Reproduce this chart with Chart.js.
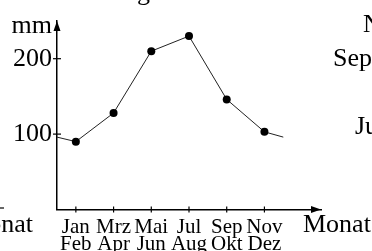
<!DOCTYPE html>
<html>
<head>
<meta charset="utf-8">
<script src="https://cdn.jsdelivr.net/npm/chart.js@4"></script>
<style>
  html, body { margin: 0; padding: 0; background: #fff; }
  #wrap { width: 372px; height: 251px; }
</style>
</head>
<body>
<div id="wrap"><canvas id="chartNieder"></canvas></div>
<script>
/* Daten: Niederschlag je Monat (Dez-Wert am Rand wiederholt) */
const monate = ["Jan", "Feb", "Mrz", "Apr", "Mai", "Jun", "Jul", "Aug", "Sep", "Okt", "Nov", "Dez"];
const xMonat = [0, 1, 3, 5, 7, 9, 11, 12];
const mmWerte = [96, 90, 128, 210, 230, 146, 103, 96];
const xTicks = [1, 3, 5, 7, 9, 11];
const yTicks = [100, 200];

const SERIF = '"Liberation Serif", "Times New Roman", serif';

// Achsenpfeile, Kreuz-Ticks und Beschriftungen
const deko = {
    id: "deko",
    afterDraw(chart) {
        const c = chart.ctx;
        const a = chart.chartArea;
        const sx = chart.scales.x;
        const sy = chart.scales.y;
        c.save();
        c.fillStyle = "#000";
        c.strokeStyle = "#000";
        c.lineWidth = 1.2;

        // Ticks quer über die Achse
        yTicks.forEach(v => {
            const y = sy.getPixelForValue(v);
            c.beginPath(); c.moveTo(a.left - 4, y); c.lineTo(a.left + 4, y); c.stroke();
        });
        xTicks.forEach(v => {
            const x = sx.getPixelForValue(v);
            c.beginPath(); c.moveTo(x, a.bottom - 3); c.lineTo(x, a.bottom + 3); c.stroke();
        });

        // Pfeile
        c.beginPath();
        c.moveTo(a.left, a.top);
        c.lineTo(a.left - 3.5, a.top + 10);
        c.lineTo(a.left + 3.5, a.top + 10);
        c.closePath(); c.fill();
        c.beginPath();
        c.moveTo(a.right, a.bottom);
        c.lineTo(a.right - 10, a.bottom - 3.5);
        c.lineTo(a.right - 10, a.bottom + 3.5);
        c.closePath(); c.fill();

        // Texte
        c.font = "26px " + SERIF;
        c.textBaseline = "alphabetic";
        c.textAlign = "right";
        c.fillText("mm", a.left - 5, 33);
        c.fillText("Monat", 33, 232);
        c.fillText("Niederschlag", 150, 0);
        c.textAlign = "left";
        c.fillText("Monat", a.right - 18, 232);
        c.fillText("N", 363, 32);
        c.fillText("Sep", 333, 66);
        c.fillText("Jul", 355, 134);

        // Rest eines Pfeils links
        c.beginPath(); c.moveTo(0, 208); c.lineTo(4, 208); c.stroke();
        c.restore();
    }
};

new Chart(document.getElementById("chartNieder"), {
    type: "line",
    data: {
        datasets: [{
            data: xMonat.map((x, i) => ({ x: x, y: mmWerte[i] })),
            borderColor: "#222",
            borderWidth: 1,
            backgroundColor: "#000",
            pointBackgroundColor: "#000",
            pointBorderWidth: 0,
            pointRadius: ctx => (ctx.dataIndex === 0 || ctx.dataIndex === xMonat.length - 1) ? 0 : 4,
            tension: 0,
            fill: false
        }]
    },
    plugins: [deko],
    options: {
        responsive: true,
        maintainAspectRatio: false,
        animation: false,
        layout: { padding: { top: 21, right: 51, left: 0, bottom: 0 } },
        plugins: { legend: { display: false }, tooltip: { enabled: false } },
        scales: {
            x: {
                type: "linear",
                min: 0,
                max: 14,
                afterBuildTicks: s => { s.ticks = xTicks.map(v => ({ value: v })); },
                afterFit: s => { s.height = 41.5; },
                grid: { display: false, drawTicks: false },
                border: { display: true, color: "#000", width: 1.5 },
                ticks: {
                    autoSkip: false,
                    maxRotation: 0,
                    padding: 10,
                    color: "#000",
                    font: { family: SERIF, size: 21, lineHeight: 0.8 },
                    callback: v => [monate[v - 1], monate[v]]
                }
            },
            y: {
                min: 0,
                max: 250,
                afterBuildTicks: s => { s.ticks = yTicks.map(v => ({ value: v })); },
                afterFit: s => { s.width = 57; },
                grid: { display: false, drawTicks: false },
                border: { display: true, color: "#000", width: 1.5 },
                ticks: {
                    padding: 5,
                    color: "#000",
                    font: { family: SERIF, size: 26 }
                }
            }
        }
    }
});
</script>
</body>
</html>
